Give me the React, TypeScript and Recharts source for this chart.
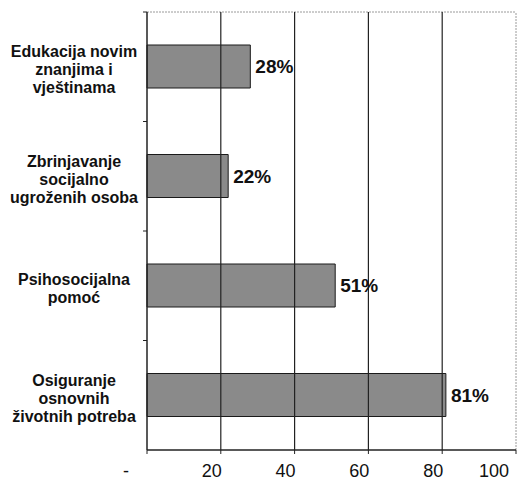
import { BarChart, Bar, XAxis, YAxis, CartesianGrid, ReferenceLine, LabelList } from 'recharts'

const CATEGORIES = [
  ['Edukacija novim', 'znanjima i', 'vještinama'],
  ['Zbrinjavanje', 'socijalno', 'ugroženih osoba'],
  ['Psihosocijalna', 'pomoć'],
  ['Osiguranje', 'osnovnih', 'životnih potreba'],
]
const VALUES = [28, 22, 51, 81]
const X_TICKS = [0, 20, 40, 60, 80, 100]
const GRID_VALUES = [20, 40, 60, 80]

const FONT = '"Liberation Sans", Arial, sans-serif'

const data = CATEGORIES.map((lines, i) => ({ name: lines.join('\n'), value: VALUES[i] }))

function CategoryTick(props: any) {
  const { x, y, payload } = props
  const lines = String(payload.value).split('\n')
  const lh = 18
  const start = y + 3 - ((lines.length - 1) * lh) / 2
  const half = payload.offset ?? 0
  return (
    <g>
      <line x1={x - 4} x2={x} y1={y - half} y2={y - half} stroke="#222" />
      <text textAnchor="middle" fontFamily={FONT} fontWeight="bold" fontSize={16} fill="#111">
        {lines.map((l, i) => (
          <tspan key={i} x={x - 73} y={start + i * lh} dominantBaseline="central">{l}</tspan>
        ))}
      </text>
    </g>
  )
}

function ValueTick(props: any) {
  const { x, y, payload } = props
  const zero = payload.value === 0
  return (
    <text x={zero ? x - 18 : x + 1} y={y + 21} textAnchor="end" fontFamily={FONT} fontSize={18} fill="#111">
      {zero ? '-' : payload.value}
    </text>
  )
}

export default function App() {
  return (
    <div style={{ position: 'absolute', left: 0, top: 0, width: 520, height: 483, background: '#fff' }}>
      <BarChart
        width={520}
        height={483}
        layout="vertical"
        data={data}
        margin={{ top: 12, right: 4, left: 0, bottom: 0 }}
      >
        <CartesianGrid
          vertical={false}
          horizontalCoordinatesGenerator={({ offset }: any) => [offset.top]}
          stroke="#9a9a9a"
          strokeDasharray="2 1"
        />
        {GRID_VALUES.map(v => (
          <ReferenceLine key={v} x={v} stroke="#222" strokeWidth={1.2} />
        ))}
        <ReferenceLine x={100} stroke="#9a9a9a" strokeDasharray="2 1" />
        <XAxis
          type="number"
          domain={[0, 100]}
          ticks={X_TICKS}
          height={33}
          tickSize={4}
          axisLine={{ stroke: '#222', strokeWidth: 1.5 }}
          tickLine={{ stroke: '#222' }}
          tick={<ValueTick />}
        />
        <YAxis
          type="category"
          dataKey="name"
          width={147}
          tickSize={0}
          tickMargin={0}
          axisLine={{ stroke: '#222', strokeWidth: 1.5 }}
          tick={<CategoryTick />}
          interval={0}
        />
        <Bar dataKey="value" fill="#8a8a8a" stroke="#1a1a1a" strokeWidth={1} barSize={43} isAnimationActive={false}>
          <LabelList
            dataKey="value"
            position="right"
            offset={5}
            formatter={(v: any) => `${v}%`}
            style={{ fontFamily: FONT, fontWeight: 'bold', fontSize: 19, fill: '#111' }}
          />
        </Bar>
      </BarChart>
    </div>
  )
}
